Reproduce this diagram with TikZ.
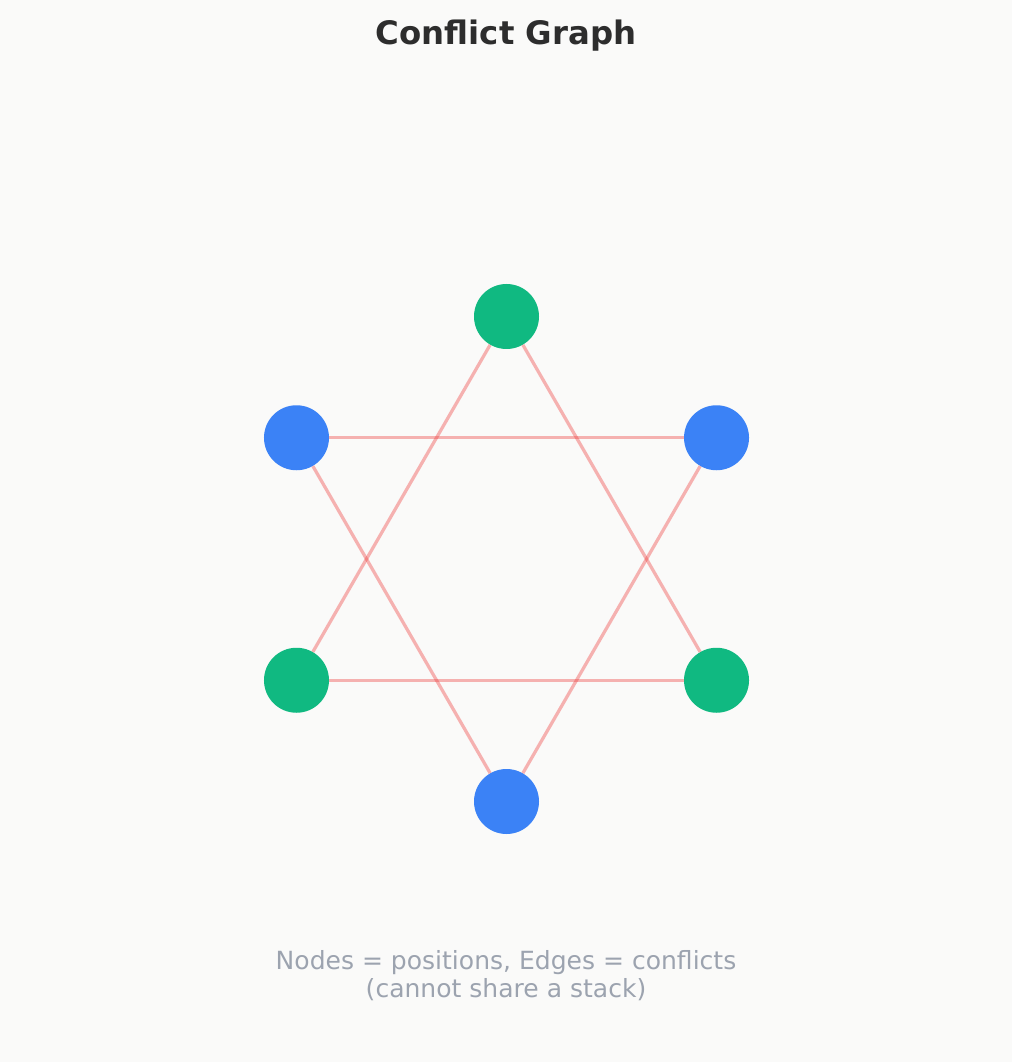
\documentclass[tikz,border=0pt]{standalone}
\usepackage{fontspec}
\setmainfont{DejaVu Sans}
\usepackage{xcolor}
\usetikzlibrary{calc}

\definecolor{bgcol}{HTML}{FAFAF9}
\definecolor{titlecol}{HTML}{2D2D2D}
\definecolor{notecol}{HTML}{9CA3AF}
\definecolor{posgreen}{HTML}{10B981}
\definecolor{posblue}{HTML}{3B82F6}
\definecolor{conflictred}{HTML}{EF4444}

\begin{document}
\begin{tikzpicture}[x=0.025cm, y=-0.025cm,
		position/.style={circle, minimum size=65*0.025cm, inner sep=0pt},
		conflict/.style={conflictred, opacity=0.4, line width=2.3pt}]
		\def\cx{506.5};
		\def\cy{559};
		\def\R{242.5};

		\fill[bgcol] (0,0) rectangle (1012,1062);
		\useasboundingbox (0,0) rectangle (1012,1062);

		\node[titlecol, font=\bfseries\fontsize{23}{27}\selectfont] (title) at (506,36) {Conflict Graph};

		% six positions around the centre (y runs downwards)
		\coordinate (centre) at (\cx,\cy);
		\foreach \name/\ang/\col in {top/270/posgreen, upleft/210/posblue, upright/330/posblue, lowleft/150/posgreen, lowright/30/posgreen, bottom/90/posblue}
		{
			\node[position, fill=\col] (\name) at ($ (centre) + (\ang:\R) $) {};
		}

		% conflicts
		\foreach \a/\b in {top/lowleft, top/lowright, lowleft/lowright, upleft/upright, upleft/bottom, upright/bottom}
		{
			\draw[conflict] (\a) -- (\b);
		}

		\node[notecol, font=\fontsize{17.8}{19.9}\selectfont, align=center] (note) at (506,975.5)
			{Nodes = positions, Edges = conflicts\\(cannot share a stack)};
	\end{tikzpicture}
\end{document}
